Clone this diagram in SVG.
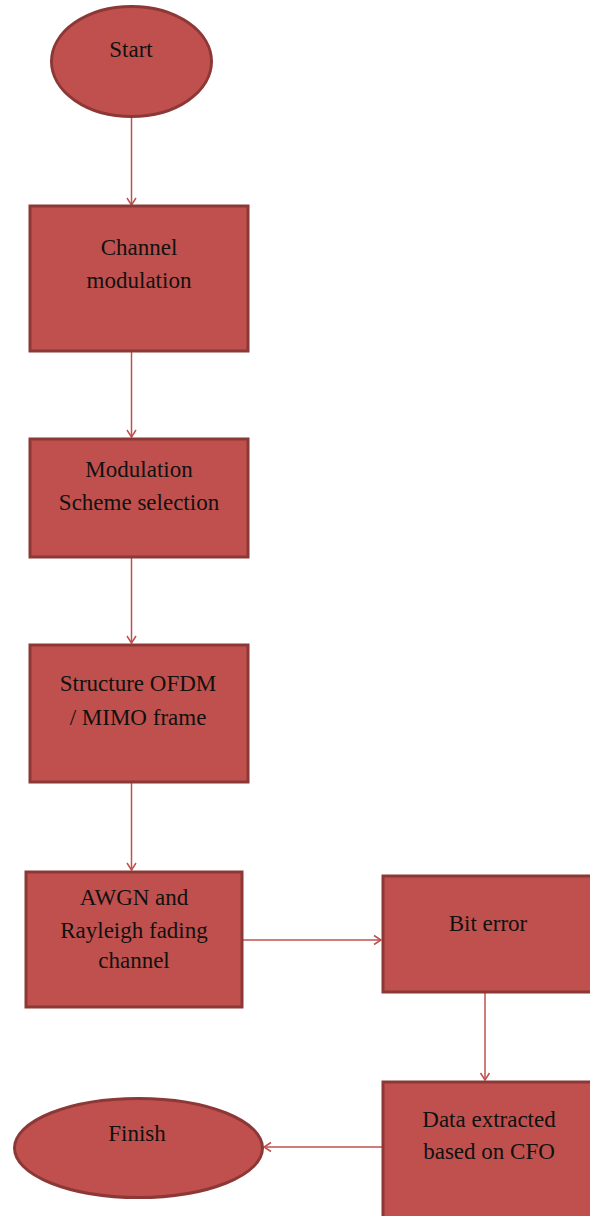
<svg xmlns="http://www.w3.org/2000/svg" width="590" height="1216" viewBox="0 0 590 1216">
<defs>
<style>
.n{fill:#C0504D;stroke:#8C3836;stroke-width:3}
.t{font-family:"Liberation Serif","Times New Roman",serif;font-size:23px;fill:#111;text-anchor:middle}
.c{fill:none;stroke:#C0504D;stroke-width:1.5}
</style>
<marker id="ah" markerWidth="12" markerHeight="12" refX="9" refY="6" orient="auto" markerUnits="userSpaceOnUse">
<path d="M2,1.5 L9,6 L2,10.5" fill="none" stroke="#C0504D" stroke-width="1.5"/>
</marker>
</defs>
<rect width="590" height="1216" fill="#fff"/>
<g id="connectors">
<line class="c" x1="131.5" y1="117" x2="131.5" y2="205" marker-end="url(#ah)"/>
<line class="c" x1="131.5" y1="352" x2="131.5" y2="437" marker-end="url(#ah)"/>
<line class="c" x1="131.5" y1="558" x2="131.5" y2="643" marker-end="url(#ah)"/>
<line class="c" x1="131.5" y1="783" x2="131.5" y2="870" marker-end="url(#ah)"/>
<line class="c" x1="243" y1="940" x2="381" y2="940" marker-end="url(#ah)"/>
<line class="c" x1="485" y1="993" x2="485" y2="1080" marker-end="url(#ah)"/>
<line class="c" x1="382" y1="1147" x2="264" y2="1147" marker-end="url(#ah)"/>
</g>
<g id="start">
<ellipse class="n" cx="131.5" cy="61.5" rx="80" ry="55"/>
<text class="t" x="131" y="57">Start</text>
</g>
<g id="channel-modulation">
<rect class="n" x="30" y="206" width="218" height="145"/>
<text class="t" x="139" y="255">Channel</text>
<text class="t" x="139" y="288">modulation</text>
</g>
<g id="modulation-scheme">
<rect class="n" x="30" y="439" width="218" height="118"/>
<text class="t" x="139" y="477">Modulation</text>
<text class="t" x="139" y="510">Scheme selection</text>
</g>
<g id="structure">
<rect class="n" x="30" y="645" width="218" height="137"/>
<text class="t" x="138" y="691">Structure OFDM</text>
<text class="t" x="138" y="725">/ MIMO frame</text>
</g>
<g id="awgn">
<rect class="n" x="26" y="872" width="216" height="135"/>
<text class="t" x="134" y="905">AWGN and</text>
<text class="t" x="134" y="938">Rayleigh fading</text>
<text class="t" x="134" y="968">channel</text>
</g>
<g id="bit-error">
<rect class="n" x="383" y="876" width="212" height="116"/>
<text class="t" x="488" y="931">Bit error</text>
</g>
<g id="data-extracted">
<rect class="n" x="383" y="1082" width="212" height="140"/>
<text class="t" x="489" y="1127">Data extracted</text>
<text class="t" x="489" y="1159">based on CFO</text>
</g>
<g id="finish">
<ellipse class="n" cx="138.5" cy="1148" rx="124" ry="49.5"/>
<text class="t" x="137" y="1141">Finish</text>
</g>
</svg>
